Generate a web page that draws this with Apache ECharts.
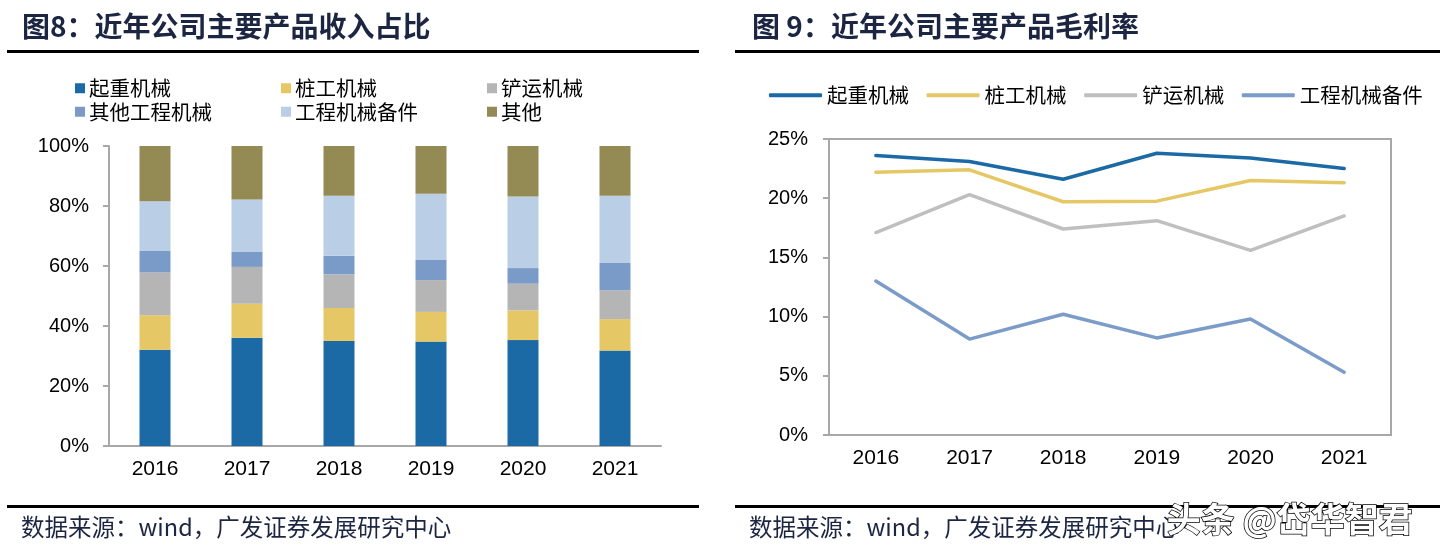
<!DOCTYPE html>
<html>
<head>
<meta charset="utf-8">
<script src="https://cdn.jsdelivr.net/npm/echarts@6/dist/echarts.min.js"></script>
<style>
html,body{margin:0;padding:0;background:#fff;}
#main{width:1450px;height:558px;}
</style>
</head>
<body>
<div id="main"></div>
<script>
// ---- data ----
const years = ['2016', '2017', '2018', '2019', '2020', '2021'];

// Fig 8: revenue share (%)
const revLift      = [32.1, 36.1, 35.0, 34.8, 35.3, 31.8];
const revPile      = [11.5, 11.3, 11.0, 9.9, 9.9, 10.5];
const revShovel    = [14.3, 12.3, 11.2, 10.6, 8.9, 9.6];
const revOtherEng  = [7.1, 5.0, 6.2, 6.7, 5.2, 9.1];
const revParts     = [16.6, 17.5, 20.0, 22.1, 23.9, 22.4];
const revOther     = [18.4, 17.8, 16.6, 15.9, 16.8, 16.6];
const revNames = ['起重机械', '桩工机械', '铲运机械', '其他工程机械', '工程机械备件', '其他'];

// Fig 9: gross margin (%)
const gmLift   = [23.6, 23.1, 21.6, 23.8, 23.4, 22.5];
const gmPile   = [22.2, 22.4, 19.7, 19.75, 21.5, 21.3];
const gmShovel = [17.1, 20.3, 17.4, 18.1, 15.6, 18.5];
const gmParts  = [13.0, 8.1, 10.2, 8.2, 9.8, 5.3];
const gmNames = ['起重机械', '桩工机械', '铲运机械', '工程机械备件'];

const leftTicks = [0, 20, 40, 60, 80, 100];
const rightTicks = [0, 5, 10, 15, 20, 25];

const title8 = '图8：近年公司主要产品收入占比';
const title9 = '图 9：近年公司主要产品毛利率';
const sourceText = '数据来源：wind，广发证券发展研究中心';
const watermark = '头条 @岱华智君';

// ---- styles ----
const barColors = ['#1b6aa5', '#e5c865', '#b5b5b5', '#7a9bc8', '#bacee6', '#948a54'];
const lineColors = ['#1b6aa5', '#e5c865', '#bfbfbf', '#7b9cc9'];
const axisGray = '#a8a8a8';
const navy = '#1c2541';
const cjk = '"Noto Sans CJK SC", "Noto Sans", sans-serif';
const latin = '"Liberation Sans", Arial, sans-serif';

const chart = echarts.init(document.getElementById('main'), null, {renderer: 'canvas'});

const revData = [revLift, revPile, revShovel, revOtherEng, revParts, revOther];
const gmData = [gmLift, gmPile, gmShovel, gmParts];

const barSeries = revNames.map((n, i) => ({
  name: n, type: 'bar', stack: 'rev', barWidth: 31,
  xAxisIndex: 0, yAxisIndex: 0,
  itemStyle: {color: barColors[i]},
  data: revData[i]
}));
const lineSeries = gmNames.map((n, i) => ({
  name: n + ' ', type: 'line', symbol: 'none',
  xAxisIndex: 1, yAxisIndex: 1,
  lineStyle: {color: lineColors[i], width: 3.5, cap: 'round', join: 'round'},
  itemStyle: {color: lineColors[i]},
  data: gmData[i]
}));

function barLegend(left, names) {
  return {
    orient: 'vertical', left: left, top: 78, itemGap: 3, padding: 0,
    itemWidth: 10, itemHeight: 10, icon: 'rect', itemStyle: {borderWidth: 0},
    textStyle: {fontFamily: cjk, fontSize: 20.5, color: '#000', padding: [0, 0, 0, -1]},
    data: names
  };
}

const option = {
  animation: false,
  backgroundColor: '#fff',
  legend: [
    barLegend(75, [revNames[0], revNames[3]]),
    barLegend(281, [revNames[1], revNames[4]]),
    barLegend(487, [revNames[2], revNames[5]]),
    {
      orient: 'horizontal', left: 769, top: 85, itemGap: 13, padding: 0,
      itemWidth: 53, itemHeight: 4, icon: 'roundRect',
      textStyle: {fontFamily: cjk, fontSize: 20.5, color: '#000'},
      data: gmNames.map(n => n + ' ')
    }
  ],
  grid: [
    {left: 109, top: 146, width: 552, height: 300, containLabel: false},
    {left: 829, top: 139, width: 562, height: 296, containLabel: false,
     show: true, borderColor: axisGray, borderWidth: 2, backgroundColor: 'transparent'}
  ],
  xAxis: [
    {type: 'category', gridIndex: 0, data: years,
     axisLine: {lineStyle: {color: axisGray, width: 2}}, axisTick: {show: false},
     axisLabel: {fontFamily: latin, fontSize: 21, color: '#000', margin: 13}},
    {type: 'category', gridIndex: 1, data: years,
     axisLine: {lineStyle: {color: axisGray, width: 2}}, axisTick: {show: false},
     axisLabel: {fontFamily: latin, fontSize: 21, color: '#000', margin: 13}}
  ],
  yAxis: [
    {type: 'value', gridIndex: 0, min: leftTicks[0], max: leftTicks[leftTicks.length - 1], interval: 20,
     axisLine: {show: true, lineStyle: {color: axisGray, width: 2}},
     axisTick: {show: true, length: 6, lineStyle: {color: axisGray, width: 2}},
     splitLine: {show: false},
     axisLabel: {fontFamily: latin, fontSize: 20, color: '#000', margin: 20, formatter: '{value}%'}},
    {type: 'value', gridIndex: 1, min: rightTicks[0], max: rightTicks[rightTicks.length - 1], interval: 5,
     axisLine: {show: true, lineStyle: {color: axisGray, width: 2}},
     axisTick: {show: true, length: 6, lineStyle: {color: axisGray, width: 2}},
     splitLine: {show: false},
     axisLabel: {fontFamily: latin, fontSize: 20, color: '#000', margin: 21, formatter: '{value}%'}}
  ],
  series: barSeries.concat(lineSeries),
  graphic: [
    {type: 'text', left: 22, top: 12, style: {text: title8, font: 'bold 28px ' + cjk, fill: navy}},
    {type: 'text', left: 752, top: 12, style: {text: title9, font: 'bold 28px ' + cjk, fill: navy}},
    {type: 'rect', shape: {x: 7, y: 50, width: 692, height: 3}, style: {fill: '#000'}},
    {type: 'rect', shape: {x: 735, y: 50, width: 705, height: 3}, style: {fill: '#000'}},
    {type: 'rect', shape: {x: 7, y: 505, width: 692, height: 3}, style: {fill: '#000'}},
    {type: 'rect', shape: {x: 735, y: 505, width: 705, height: 3}, style: {fill: '#000'}},
    {type: 'text', left: 21, top: 515, style: {text: sourceText, font: '23.5px ' + cjk, fill: navy}},
    {type: 'text', left: 749, top: 515, style: {text: sourceText, font: '23.5px ' + cjk, fill: navy}},
    {type: 'text', left: 1166, top: 501, z: 100,
     style: {text: watermark, font: 'bold 34px ' + cjk, fill: '#fff',
             stroke: '#000', lineWidth: 1.5,
             textShadowColor: '#000', textShadowOffsetX: 2, textShadowOffsetY: 2, textShadowBlur: 0}}
  ]
};
chart.setOption(option);
</script>
</body>
</html>
